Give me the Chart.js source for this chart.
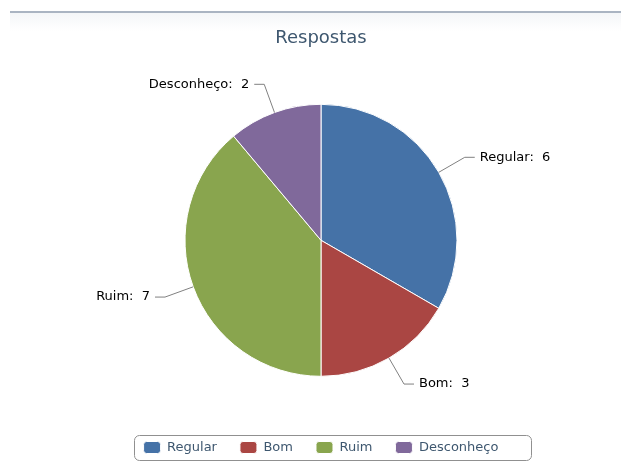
<!DOCTYPE html>
<html>
<head>
<meta charset="utf-8">
<script src="https://cdn.jsdelivr.net/npm/chart.js@4.4.0/dist/chart.umd.min.js"></script>
<style>
  html, body { margin: 0; padding: 0; background: #ffffff; }
  #wrap { position: relative; width: 621px; height: 475px; }
  #topline { position: absolute; left: 10px; top: 11px; width: 611px; height: 2px; background: #aab4c2; }
  #topband { position: absolute; left: 10px; top: 13px; width: 611px; height: 18px; background: linear-gradient(#f4f6f8, #ffffff); }
  canvas { position: absolute; left: 0; top: 0; }
</style>
</head>
<body>
<div id="wrap">
  <div id="topband"></div>
  <div id="topline"></div>
  <canvas id="c" width="621" height="475"></canvas>
</div>
<script>
const titleText = "Respostas";
const categories = ["Regular", "Bom", "Ruim", "Desconheço"];
const values = [6, 3, 7, 2];
const colors = ["#4572A7", "#AA4643", "#89A54E", "#80699B"];

const FONT = "'DejaVu Sans', Verdana, sans-serif";

const pieLabels = {
  id: 'pieLabels',
  afterDraw(chart) {
    const ctx = chart.ctx;
    const meta = chart.getDatasetMeta(0);
    ctx.save();
    ctx.font = "13px " + FONT;
    ctx.textBaseline = 'middle';
    meta.data.forEach((arc, i) => {
      const p = arc.getProps(['x', 'y', 'startAngle', 'endAngle', 'outerRadius'], true);
      const mid = (p.startAngle + p.endAngle) / 2;
      const c = Math.cos(mid), s = Math.sin(mid);
      const R = p.outerRadius;
      const ex = p.x + c * R, ey = p.y + s * R;
      const bx = p.x + c * (R + 30), by = p.y + s * (R + 30);
      const dir = c >= 0 ? 1 : -1;
      const hx = bx + dir * 10;
      ctx.strokeStyle = '#808080';
      ctx.lineWidth = 1;
      ctx.beginPath();
      ctx.moveTo(ex, ey);
      ctx.lineTo(bx, by);
      ctx.lineTo(hx, by);
      ctx.stroke();
      ctx.fillStyle = '#000000';
      ctx.textAlign = dir > 0 ? 'left' : 'right';
      ctx.fillText(categories[i] + ":  " + values[i], hx + dir * 5, by);
    });
    ctx.restore();
  }
};

const legendBorder = {
  id: 'legendBorder',
  afterDraw(chart) {
    const lg = chart.legend;
    if (!lg || !lg.legendHitBoxes || !lg.legendHitBoxes.length) return;
    let l = Infinity, r = -Infinity, t = Infinity, b = -Infinity;
    lg.legendHitBoxes.forEach(h => {
      l = Math.min(l, h.left); r = Math.max(r, h.left + h.width);
      t = Math.min(t, h.top); b = Math.max(b, h.top + h.height);
    });
    const x0 = l - 10, x1 = r + 32, y0 = t - 6, y1 = b + 6;
    const ctx = chart.ctx;
    ctx.save();
    ctx.strokeStyle = '#909090';
    ctx.lineWidth = 1;
    ctx.beginPath();
    ctx.roundRect(Math.round(x0) + 0.5, Math.round(y0) + 0.5, Math.round(x1 - x0), Math.round(y1 - y0), 5);
    ctx.stroke();
    ctx.restore();
  }
};

new Chart(document.getElementById('c'), {
  type: 'pie',
  data: {
    labels: categories,
    datasets: [{
      data: values,
      backgroundColor: colors,
      borderColor: '#ffffff',
      borderWidth: 1,
      radius: 136
    }]
  },
  options: {
    responsive: false,
    animation: false,
    layout: { padding: { left: 21, right: 0, top: 0, bottom: 11 } },
    plugins: {
      title: {
        display: true,
        text: titleText,
        color: '#3E576F',
        font: { family: FONT, size: 18, weight: 'normal' },
        padding: { top: 28, bottom: 13 }
      },
      legend: {
        display: true,
        position: 'bottom',
        labels: {
          font: { family: FONT, size: 13 },
          color: '#3E576F',
          boxWidth: 17,
          boxHeight: 12,
          padding: 23,
          useBorderRadius: true,
          borderRadius: 3
        }
      },
      tooltip: { enabled: false }
    }
  },
  plugins: [pieLabels, legendBorder]
});
</script>
</body>
</html>
